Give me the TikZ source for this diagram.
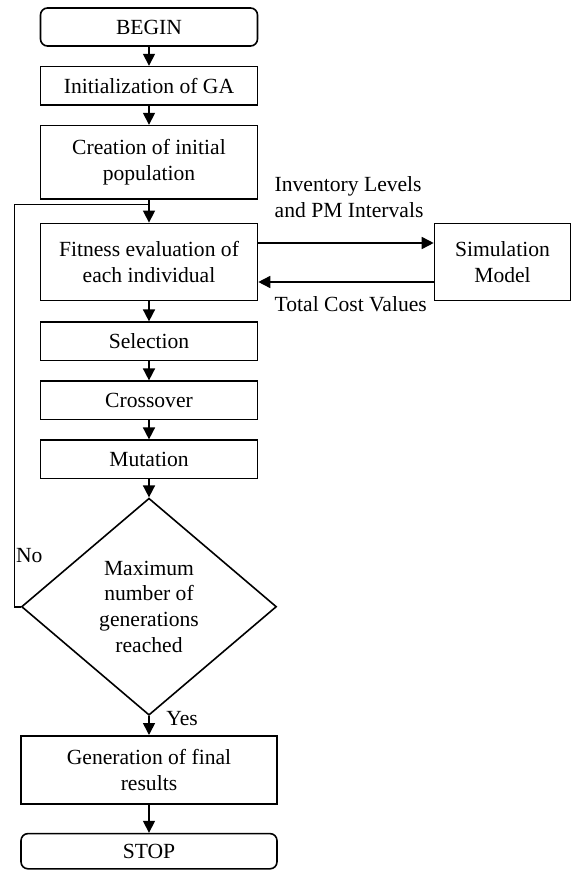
\documentclass[tikz,border=0pt]{standalone}
\usepackage{fontspec}
\setmainfont{Liberation Serif}
\usetikzlibrary{arrows.meta, positioning, shapes.geometric}

\begin{document}
\begin{tikzpicture}[
      node distance=9.5pt,
      font=\fontsize{10.8}{12.8}\selectfont,
      box/.style={draw, line width=0.8pt, minimum width=108.5pt,
                  minimum height=#1, align=center, inner sep=2pt},
      box/.default=19.2pt,
      term/.style={box=#1, rounded corners=3.5pt},
      dec/.style={draw, diamond, line width=0.8pt, minimum width=127.5pt,
                  minimum height=108.5pt, inner sep=0pt, align=center},
      lbl/.style={inner sep=0pt, align=left},
      line/.style={line width=0.8pt},
      arr/.style={line, -{Triangle[length=6pt, width=6pt]}}
  ]
    \useasboundingbox (-74.5pt,13.5pt) rectangle (211pt,-422pt);

    \node[term=19pt]                            (begin) {BEGIN};
    \node[box, below=of begin]                  (init)  {Initialization of GA};
    \node[box=36.6pt, below=of init]            (pop)   {Creation of initial\\population};
    \node[box=38.6pt, below=11.5pt of pop]      (fit)   {Fitness evaluation of\\each individual};
    \node[box, below=10pt of fit]               (sel)   {Selection};
    \node[box, below=of sel]                    (cross) {Crossover};
    \node[box, below=of cross]                  (mut)   {Mutation};
    \node[dec, below=9pt of mut]                (max)   {Maximum\\number of\\generations\\reached};
    \node[box=34.1pt, minimum width=128pt, below=of max]  (gen)  {Generation of final\\results};
    \node[term=17.6pt, minimum width=128pt, below=14pt of gen] (stop) {STOP};
    \node[box=38.6pt, minimum width=68pt, right=87.7pt of fit] (sim) {Simulation\\Model};

    \draw[arr] (begin) -- (init);
    \draw[arr] (init)  -- (pop);
    \draw[arr] (pop)   -- (fit);
    \draw[arr] (fit)   -- (sel);
    \draw[arr] (sel)   -- (cross);
    \draw[arr] (cross) -- (mut);
    \draw[arr] (mut)   -- (max);
    \draw[arr] (max)   -- (gen);
    \draw[arr] (gen)   -- (stop);

    % exchange with the simulation model
    \draw[arr] ([yshift=9.5pt]fit.east) -- ([yshift=9.5pt]sim.west);
    \draw[arr] ([yshift=-10pt]sim.west) -- ([yshift=-10pt]fit.east);
    \node[lbl, anchor=south west] (inv) at ([xshift=8pt, yshift=22pt]fit.east)
      {Inventory Levels\\and PM Intervals};
    \node[lbl, anchor=north west] (cost) at ([xshift=8pt, yshift=-17pt]fit.east)
      {Total Cost Values};

    % loop back when not finished
    \coordinate (jn) at ([yshift=9pt]fit.north);
    \draw[line] (max.west) -- ++(-3pt,0) |- (jn);
    \node[lbl, anchor=west] (no)  at ([xshift=-2.5pt, yshift=25.5pt]max.west) {No};
    \node[lbl, anchor=west] (yes) at ([xshift=8.5pt, yshift=-1.5pt]max.south) {Yes};
  \end{tikzpicture}
\end{document}
